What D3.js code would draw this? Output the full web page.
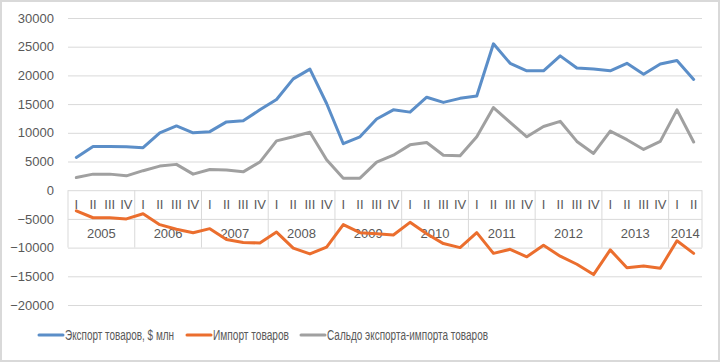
<!DOCTYPE html>
<html>
<head>
<meta charset="utf-8">
<script src="https://cdn.jsdelivr.net/npm/d3@7"></script>
<style>
  body { margin: 0; background: #fff; }
  svg { display: block; font-family: "Liberation Sans", Arial, sans-serif; }
</style>
</head>
<body>
<svg width="720" height="362"></svg>
<script>
// data (quarterly, 2005 Q1 .. 2014 Q2)
const years = ['2005', '2006', '2007', '2008', '2009', '2010', '2011', '2012', '2013', '2014'];
const quarterNames = ['I', 'II', 'III', 'IV'];
const exportValues = [5700, 7600, 7600, 7550, 7400, 10000, 11200, 10000, 10200, 11900, 12100, 14000,
  15800, 19400, 21100, 15100, 8100, 9300, 12400, 14000, 13600, 16200, 15300, 16000,
  16400, 25500, 22100, 20800, 20800, 23400, 21300, 21100, 20800, 22100, 20200, 22000, 22600, 19300];
const importValues = [-3600, -4800, -4800, -5000, -4100, -6000, -6800, -7400, -6700, -8600, -9100, -9200,
  -7300, -10100, -11100, -9900, -6000, -7400, -7600, -7800, -5600, -7600, -9300, -10000,
  -7400, -11000, -10300, -11600, -9600, -11500, -12900, -14700, -10400, -13500, -13200, -13600, -8800, -11000];
const balanceValues = [2200, 2800, 2800, 2500, 3400, 4200, 4500, 2800, 3600, 3500, 3200, 4900,
  8600, 9300, 10100, 5300, 2100, 2100, 4900, 6100, 7900, 8300, 6100, 6000,
  9300, 14400, 11800, 9300, 11100, 12000, 8500, 6400, 10300, 8800, 7100, 8500, 14000, 8400];
const yTicks = [30000, 25000, 20000, 15000, 10000, 5000, 0, -5000, -10000, -15000, -20000];
const seriesNames = ['Экспорт товаров, $ млн', 'Импорт товаров', 'Сальдо экспорта-импорта товаров'];
const seriesColors = ['#5b8ec8', '#eb6e2e', '#a0a0a0'];

const svg = d3.select('svg');
const svgWidth = +svg.attr('width');
const svgHeight = +svg.attr('height');
const margins = { top: 18, right: 18, bottom: 57, left: 68 };
const plotRight = svgWidth - margins.right;
const plotBottom = svgHeight - margins.bottom;

// frame
svg.append('rect')
  .attr('x', 1).attr('y', 1)
  .attr('width', svgWidth - 2).attr('height', svgHeight - 2)
  .attr('fill', '#fff').attr('stroke', '#d9d9d9').attr('stroke-width', 2);

const periods = exportValues.map((d, i) => ({
  key: i,
  year: years[Math.floor(i / 4)],
  quarter: quarterNames[i % 4]
}));

const xScale = d3.scaleBand()
  .domain(periods.map(p => p.key))
  .range([margins.left, plotRight])
  .padding(0);
const xMid = i => xScale(i) + xScale.bandwidth() / 2;

const yScale = d3.scaleLinear()
  .domain([-20000, 30000])
  .range([plotBottom, margins.top]);

// gridlines + y labels
const yAxis = d3.axisLeft(yScale)
  .tickValues(yTicks)
  .tickSize(-(plotRight - margins.left))
  .tickPadding(14)
  .tickFormat(d3.format('d'));
const yAxisGroup = svg.append('g')
  .attr('transform', `translate(${margins.left}, 0)`)
  .call(yAxis);
yAxisGroup.select('path.domain').remove();
yAxisGroup.selectAll('line').attr('stroke', '#d9d9d9');
yAxisGroup.selectAll('text')
  .attr('fill', '#595959')
  .style('font-size', '13px');

// multi-level category axis at zero
const y0 = yScale(0);
const rowH = yScale(-5000) - y0;
const catAxis = svg.append('g').attr('class', 'category-axis');
const yearStarts = years.map((y, k) => k * 4);
yearStarts.concat([periods.length]).forEach(i => {
  const x = i < periods.length ? xScale(i) : plotRight;
  catAxis.append('line')
    .attr('x1', x).attr('x2', x)
    .attr('y1', y0).attr('y2', y0 + rowH * 2)
    .attr('stroke', '#d9d9d9');
});
catAxis.selectAll('text.quarter')
  .data(periods)
  .enter()
  .append('text')
    .attr('class', 'quarter')
    .attr('x', p => xMid(p.key))
    .attr('y', y0 + rowH / 2)
    .attr('dy', '0.35em')
    .attr('text-anchor', 'middle')
    .attr('fill', '#595959')
    .style('font-size', '13px')
    .text(p => p.quarter);
catAxis.selectAll('text.year')
  .data(years)
  .enter()
  .append('text')
    .attr('class', 'year')
    .attr('x', (y, k) => {
      const first = k * 4;
      const last = Math.min(first + 3, periods.length - 1);
      return (xScale(first) + xScale(last) + xScale.bandwidth()) / 2;
    })
    .attr('y', y0 + rowH * 1.5)
    .attr('dy', '0.35em')
    .attr('text-anchor', 'middle')
    .attr('fill', '#595959')
    .style('font-size', '13px')
    .text(y => y);

// lines
const lineGenerator = d3.line()
  .x((d, i) => xMid(i))
  .y(d => yScale(d));
[exportValues, importValues, balanceValues].forEach((values, s) => {
  svg.append('path')
    .attr('d', lineGenerator(values))
    .attr('fill', 'none')
    .attr('stroke', seriesColors[s])
    .attr('stroke-width', 3)
    .attr('stroke-linejoin', 'round')
    .attr('stroke-linecap', 'round');
});

// legend (narrow font in the original, so squeeze the text)
const legendY = 335;
const legendX = [39, 187, 301];
const legendTextWidth = [109, 76, 161];
const legend = svg.append('g').attr('class', 'legend');
seriesNames.forEach((name, s) => {
  legend.append('line')
    .attr('x1', legendX[s]).attr('x2', legendX[s] + 24)
    .attr('y1', legendY).attr('y2', legendY)
    .attr('stroke', seriesColors[s])
    .attr('stroke-width', 3)
    .attr('stroke-linecap', 'round');
  legend.append('text')
    .attr('x', legendX[s] + 26)
    .attr('y', legendY)
    .attr('dy', '0.35em')
    .attr('fill', '#595959')
    .attr('textLength', legendTextWidth[s])
    .attr('lengthAdjust', 'spacingAndGlyphs')
    .style('font-size', '14px')
    .text(name);
});
</script>
</body>
</html>
